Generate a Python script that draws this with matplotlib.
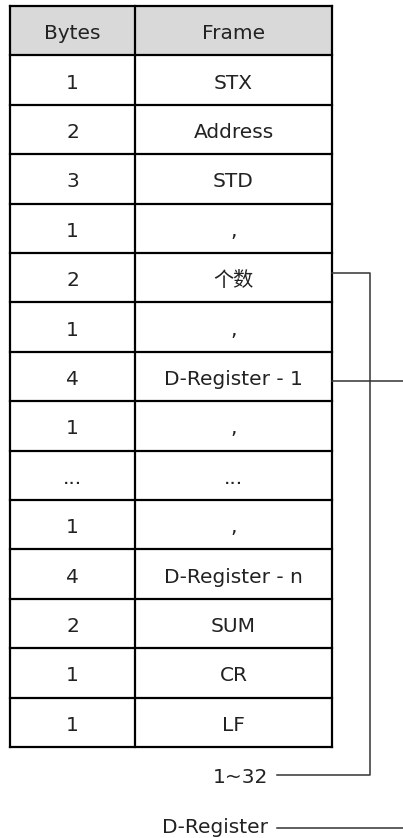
import matplotlib.pyplot as plt
from matplotlib.patches import Rectangle

plt.rcParams['font.family'] = ['DejaVu Sans', 'Noto Sans CJK SC']

header = ['Bytes', 'Frame']
byte_counts = ['1', '2', '3', '1', '2', '1', '4', '1', '...', '1', '4', '2', '1', '1']
frames = ['STX', 'Address', 'STD', ',', '个数', ',', 'D-Register - 1', ',', '...',
          ',', 'D-Register - n', 'SUM', 'CR', 'LF']
note_count = '1~32'
note_reg = 'D-Register'

W, H = 403, 838
fig = plt.figure(figsize=(W / 100, H / 100), dpi=100)
ax = fig.add_axes([0, 0, 1, 1])
ax.set_xlim(0, W)
ax.set_ylim(H, 0)
ax.axis('off')

# table geometry (pixels)
x0, xmid, x1 = 10, 135, 332
y0, row_h = 6, 49.4
n_rows = len(frames) + 1
fs = 14.5
tc = '#222222'

ax.add_patch(Rectangle((x0, y0), x1 - x0, row_h, facecolor='#d9d9d9', edgecolor='none'))

rows = [header] + list(zip(byte_counts, frames))
for i, (b, f) in enumerate(rows):
    yb = y0 + (i + 0.5) * row_h + 8.5
    ax.text((x0 + xmid) / 2, yb, b, ha='center', va='baseline', fontsize=fs, color=tc)
    ax.text((xmid + x1) / 2, yb, f, ha='center', va='baseline', fontsize=fs, color=tc)

# grid lines
for i in range(n_rows + 1):
    y = y0 + i * row_h
    ax.plot([x0, x1], [y, y], color='black', lw=1.6, solid_capstyle='projecting')
for x in (x0, xmid, x1):
    ax.plot([x, x], [y0, y0 + n_rows * row_h], color='black', lw=1.6, solid_capstyle='projecting')

# connector lines
cnt_y = y0 + 5.5 * row_h - 5
reg_y = y0 + 7.5 * row_h + 5
bx = 370
lab1_y, lab2_y = 775, 828
lc = '#333333'
ax.plot([x1, bx, bx, 277], [cnt_y, cnt_y, lab1_y, lab1_y], color=lc, lw=1.1)
ax.plot([x1, W], [reg_y, reg_y], color=lc, lw=1.1)
ax.plot([277, W], [lab2_y, lab2_y], color=lc, lw=1.1)

ax.text(268, 783, note_count, ha='right', va='baseline', fontsize=fs, color=tc)
ax.text(268, 833, note_reg, ha='right', va='baseline', fontsize=fs, color=tc)

fig.savefig('out.png', dpi=100, facecolor='white')
